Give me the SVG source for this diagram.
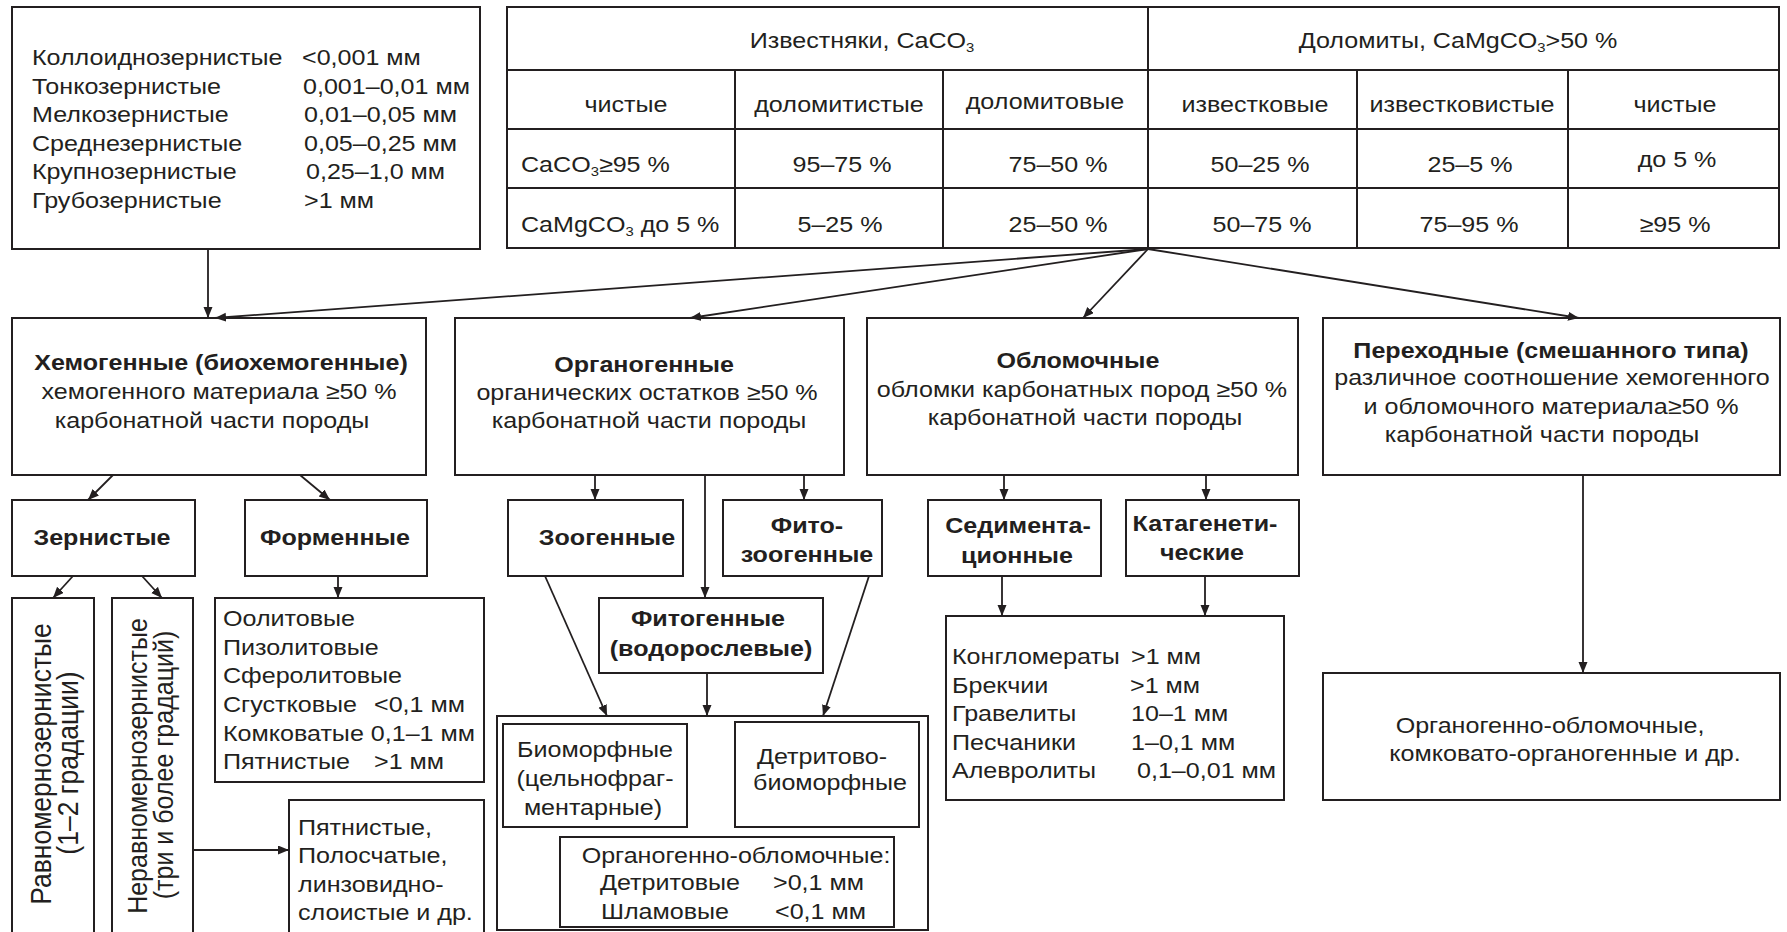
<svg xmlns="http://www.w3.org/2000/svg" width="1787" height="932" viewBox="0 0 1787 932">
<style>
  .bx { fill: #ffffff; stroke: #231f20; stroke-width: 2; }
  .ln { stroke: #231f20; stroke-width: 2; fill: none; }
  text { font-family: "Liberation Sans", Arial, sans-serif; font-size: 22px; fill: #231f20; }
  .b { font-weight: bold; }
  .m { text-anchor: middle; }
  .r { font-size: 25px; }
  .r2 { font-size: 26.5px; }
  .sub { font-size: 13px; }
  .cn line { stroke: #231f20; stroke-width: 1.8; marker-end: url(#ah); }
</style>
<defs>
  <marker id="ah" markerUnits="userSpaceOnUse" markerWidth="12" markerHeight="10" refX="11" refY="4.5" orient="auto">
    <path d="M0,0 L11,4.5 L0,9 z" fill="#231f20"/>
  </marker>
</defs>
<rect x="0" y="0" width="1787" height="932" fill="#ffffff"/>

<!-- grain size box -->
<g id="grain-sizes">
  <rect class="bx" x="12" y="7" width="468" height="242"/>
  <text transform="translate(32,65) scale(1.14,1)">Коллоиднозернистые</text>
  <text transform="translate(302,65) scale(1.14,1)">&lt;0,001 мм</text>
  <text transform="translate(32,93.5) scale(1.14,1)">Тонкозернистые</text>
  <text transform="translate(303,93.5) scale(1.14,1)">0,001–0,01 мм</text>
  <text transform="translate(32,122) scale(1.14,1)">Мелкозернистые</text>
  <text transform="translate(304,122) scale(1.14,1)">0,01–0,05 мм</text>
  <text transform="translate(32,150.5) scale(1.14,1)">Среднезернистые</text>
  <text transform="translate(304,150.5) scale(1.14,1)">0,05–0,25 мм</text>
  <text transform="translate(32,179) scale(1.14,1)">Крупнозернистые</text>
  <text transform="translate(306,179) scale(1.14,1)">0,25–1,0 мм</text>
  <text transform="translate(32,207.5) scale(1.14,1)">Грубозернистые</text>
  <text transform="translate(304,207.5) scale(1.14,1)">&gt;1 мм</text>
</g>

<!-- composition table -->
<g id="composition-table">
  <rect class="bx" x="507" y="7" width="1272" height="241"/>
  <line class="ln" x1="507" y1="70" x2="1779" y2="70"/>
  <line class="ln" x1="507" y1="129" x2="1779" y2="129"/>
  <line class="ln" x1="507" y1="188" x2="1779" y2="188"/>
  <line class="ln" x1="1148" y1="7" x2="1148" y2="248"/>
  <line class="ln" x1="735" y1="70" x2="735" y2="248"/>
  <line class="ln" x1="943" y1="70" x2="943" y2="248"/>
  <line class="ln" x1="1357" y1="70" x2="1357" y2="248"/>
  <line class="ln" x1="1568" y1="70" x2="1568" y2="248"/>
  <text class="m" transform="translate(862,48) scale(1.14,1)">Известняки, CaCO<tspan class="sub" dy="4">3</tspan></text>
  <text class="m" transform="translate(1458,48) scale(1.14,1)">Доломиты, CaMgCO<tspan class="sub" dy="4">3</tspan><tspan dy="-4">&gt;50 %</tspan></text>
  <text class="m" transform="translate(626,112) scale(1.14,1)">чистые</text>
  <text class="m" transform="translate(839,112) scale(1.14,1)">доломитистые</text>
  <text class="m" transform="translate(1045,109) scale(1.14,1)">доломитовые</text>
  <text class="m" transform="translate(1255,112) scale(1.14,1)">известковые</text>
  <text class="m" transform="translate(1462,112) scale(1.14,1)">известковистые</text>
  <text class="m" transform="translate(1675,112) scale(1.14,1)">чистые</text>
  <text transform="translate(521,172) scale(1.14,1)">CaCO<tspan class="sub" dy="4">3</tspan><tspan dy="-4">≥95 %</tspan></text>
  <text class="m" transform="translate(842,172) scale(1.14,1)">95–75 %</text>
  <text class="m" transform="translate(1058,172) scale(1.14,1)">75–50 %</text>
  <text class="m" transform="translate(1260,172) scale(1.14,1)">50–25 %</text>
  <text class="m" transform="translate(1470,172) scale(1.14,1)">25–5 %</text>
  <text class="m" transform="translate(1677,167) scale(1.14,1)">до 5 %</text>
  <text transform="translate(521,232) scale(1.14,1)">CaMgCO<tspan class="sub" dy="4">3</tspan><tspan dy="-4"> до 5 %</tspan></text>
  <text class="m" transform="translate(840,232) scale(1.14,1)">5–25 %</text>
  <text class="m" transform="translate(1058,232) scale(1.14,1)">25–50 %</text>
  <text class="m" transform="translate(1262,232) scale(1.14,1)">50–75 %</text>
  <text class="m" transform="translate(1469,232) scale(1.14,1)">75–95 %</text>
  <text class="m" transform="translate(1675,232) scale(1.14,1)">≥95 %</text>
</g>

<!-- level 2 -->
<g id="chemogenic">
  <rect class="bx" x="12" y="318" width="414" height="157"/>
  <text class="m b" transform="translate(221,370) scale(1.14,1)">Хемогенные (биохемогенные)</text>
  <text class="m" transform="translate(219,399) scale(1.14,1)">хемогенного материала ≥50 %</text>
  <text class="m" transform="translate(212,428) scale(1.14,1)">карбонатной части породы</text>
</g>
<g id="organogenic">
  <rect class="bx" x="455" y="318" width="389" height="157"/>
  <text class="m b" transform="translate(644,372) scale(1.14,1)">Органогенные</text>
  <text class="m" transform="translate(647,400) scale(1.14,1)">органических остатков ≥50 %</text>
  <text class="m" transform="translate(649,428) scale(1.14,1)">карбонатной части породы</text>
</g>
<g id="clastic">
  <rect class="bx" x="867" y="318" width="431" height="157"/>
  <text class="m b" transform="translate(1078,368) scale(1.14,1)">Обломочные</text>
  <text class="m" transform="translate(1082,397) scale(1.14,1)">обломки карбонатных пород ≥50 %</text>
  <text class="m" transform="translate(1085,425) scale(1.14,1)">карбонатной части породы</text>
</g>
<g id="transitional">
  <rect class="bx" x="1323" y="318" width="457" height="157"/>
  <text class="m b" transform="translate(1551,358) scale(1.14,1)">Переходные (смешанного типа)</text>
  <text class="m" transform="translate(1552,385) scale(1.14,1)">различное соотношение хемогенного</text>
  <text class="m" transform="translate(1551,414) scale(1.14,1)">и обломочного материала≥50 %</text>
  <text class="m" transform="translate(1542,442) scale(1.14,1)">карбонатной части породы</text>
</g>

<!-- level 3 -->
<g id="granular">
  <rect class="bx" x="12" y="500" width="183" height="76"/>
  <text class="m b" transform="translate(102,545) scale(1.14,1)">Зернистые</text>
</g>
<g id="formed">
  <rect class="bx" x="245" y="500" width="182" height="76"/>
  <text class="m b" transform="translate(335,545) scale(1.14,1)">Форменные</text>
</g>
<g id="zoogenic">
  <rect class="bx" x="508" y="500" width="175" height="76"/>
  <text class="m b" transform="translate(607,545) scale(1.14,1)">Зоогенные</text>
</g>
<g id="phytozoogenic">
  <rect class="bx" x="723" y="500" width="159" height="76"/>
  <text class="m b" transform="translate(807,533) scale(1.14,1)">Фито-</text>
  <text class="m b" transform="translate(807,562) scale(1.14,1)">зоогенные</text>
</g>
<g id="sedimentational">
  <rect class="bx" x="928" y="500" width="173" height="76"/>
  <text class="m b" transform="translate(1018,533) scale(1.14,1)">Седимента-</text>
  <text class="m b" transform="translate(1017,563) scale(1.14,1)">ционные</text>
</g>
<g id="catagenetic">
  <rect class="bx" x="1126" y="500" width="173" height="76"/>
  <text class="m b" transform="translate(1205,530.5) scale(1.14,1)">Катагенети-</text>
  <text class="m b" transform="translate(1202,559.5) scale(1.14,1)">ческие</text>
</g>

<!-- level 4 -->
<g id="even-grained">
  <rect class="bx" x="12" y="598" width="82" height="345"/>
  <text class="m r2" transform="translate(51,764) scale(1.14,1) rotate(-90)">Равномернозернистые</text>
  <text class="m r2" transform="translate(78,763) scale(1.14,1) rotate(-90)">(1–2 градации)</text>
</g>
<g id="uneven-grained">
  <rect class="bx" x="112" y="598" width="81" height="345"/>
  <text class="m r" transform="translate(147,766) scale(1.14,1) rotate(-90)">Неравномернозернистые</text>
  <text class="m r" transform="translate(173,765) scale(1.14,1) rotate(-90)">(три и более градаций)</text>
</g>
<g id="formed-types">
  <rect class="bx" x="215" y="598" width="269" height="184"/>
  <text transform="translate(223,626) scale(1.14,1)">Оолитовые</text>
  <text transform="translate(223,654.5) scale(1.14,1)">Пизолитовые</text>
  <text transform="translate(223,683) scale(1.14,1)">Сферолитовые</text>
  <text transform="translate(223,712) scale(1.14,1)">Сгустковые</text>
  <text transform="translate(374,712) scale(1.14,1)">&lt;0,1 мм</text>
  <text transform="translate(223,740.5) scale(1.14,1)">Комковатые 0,1–1 мм</text>
  <text transform="translate(223,769) scale(1.14,1)">Пятнистые</text>
  <text transform="translate(374,769) scale(1.14,1)">&gt;1 мм</text>
</g>
<g id="spotted">
  <rect class="bx" x="289" y="800" width="195" height="143"/>
  <text transform="translate(298,835) scale(1.14,1)">Пятнистые,</text>
  <text transform="translate(298,863) scale(1.14,1)">Полосчатые,</text>
  <text transform="translate(298,892) scale(1.14,1)">линзовидно-</text>
  <text transform="translate(298,920) scale(1.14,1)">слоистые и др.</text>
</g>
<g id="phytogenic">
  <rect class="bx" x="599" y="598" width="224" height="75"/>
  <text class="m b" transform="translate(708,626) scale(1.14,1)">Фитогенные</text>
  <text class="m b" transform="translate(711,656) scale(1.14,1)">(водорослевые)</text>
</g>
<g id="organogenic-structures">
  <rect class="bx" x="497" y="716" width="431" height="214"/>
  <rect class="bx" x="503" y="724" width="184" height="103"/>
  <text class="m" transform="translate(595,757) scale(1.14,1)">Биоморфные</text>
  <text class="m" transform="translate(595,786) scale(1.14,1)">(цельнофраг-</text>
  <text class="m" transform="translate(593,815) scale(1.14,1)">ментарные)</text>
  <rect class="bx" x="735" y="722" width="184" height="105"/>
  <text class="m" transform="translate(822,764) scale(1.14,1)">Детритово-</text>
  <text class="m" transform="translate(830,790) scale(1.14,1)">биоморфные</text>
  <rect class="bx" x="560" y="837" width="334" height="90"/>
  <text class="m" transform="translate(736,863) scale(1.14,1)">Органогенно-обломочные:</text>
  <text transform="translate(600,890) scale(1.14,1)">Детритовые</text>
  <text transform="translate(773,890) scale(1.14,1)">&gt;0,1 мм</text>
  <text transform="translate(601,918.5) scale(1.14,1)">Шламовые</text>
  <text transform="translate(775,918.5) scale(1.14,1)">&lt;0,1 мм</text>
</g>
<g id="clastic-types">
  <rect class="bx" x="946" y="616" width="338" height="184"/>
  <text transform="translate(952,664) scale(1.14,1)">Конгломераты</text>
  <text transform="translate(1131,664) scale(1.14,1)">&gt;1 мм</text>
  <text transform="translate(952,692.5) scale(1.14,1)">Брекчии</text>
  <text transform="translate(1130,692.5) scale(1.14,1)">&gt;1 мм</text>
  <text transform="translate(952,721) scale(1.14,1)">Гравелиты</text>
  <text transform="translate(1131,721) scale(1.14,1)">10–1 мм</text>
  <text transform="translate(952,749.5) scale(1.14,1)">Песчаники</text>
  <text transform="translate(1131,749.5) scale(1.14,1)">1–0,1 мм</text>
  <text transform="translate(952,778) scale(1.14,1)">Алевролиты</text>
  <text transform="translate(1137,778) scale(1.14,1)">0,1–0,01 мм</text>
</g>
<g id="mixed-types">
  <rect class="bx" x="1323" y="673" width="457" height="127"/>
  <text class="m" transform="translate(1550,732.5) scale(1.14,1)">Органогенно-обломочные,</text>
  <text class="m" transform="translate(1565,760.5) scale(1.14,1)">комковато-органогенные и др.</text>
</g>

<!-- connectors -->
<g id="connectors" class="cn">
  <line x1="208" y1="249" x2="208" y2="318"/>
  <line x1="1148" y1="249" x2="215" y2="318"/>
  <line x1="1148" y1="249" x2="690" y2="318"/>
  <line x1="1148" y1="249" x2="1083" y2="318"/>
  <line x1="1148" y1="249" x2="1579" y2="318"/>
  <line x1="113" y1="475" x2="88" y2="500"/>
  <line x1="300" y1="475" x2="330" y2="500"/>
  <line x1="73" y1="576" x2="53" y2="598"/>
  <line x1="142" y1="576" x2="162" y2="598"/>
  <line x1="338" y1="576" x2="338" y2="598"/>
  <line x1="193" y1="850" x2="289" y2="850"/>
  <line x1="595" y1="475" x2="595" y2="500"/>
  <line x1="804" y1="475" x2="804" y2="500"/>
  <line x1="705" y1="475" x2="705" y2="598"/>
  <line x1="545" y1="576" x2="607" y2="716"/>
  <line x1="707" y1="673" x2="707" y2="716"/>
  <line x1="869" y1="576" x2="823" y2="716"/>
  <line x1="1004" y1="475" x2="1004" y2="500"/>
  <line x1="1206" y1="475" x2="1206" y2="500"/>
  <line x1="1002" y1="576" x2="1002" y2="616"/>
  <line x1="1205" y1="576" x2="1205" y2="616"/>
  <line x1="1583" y1="475" x2="1583" y2="673"/>
</g>
</svg>
